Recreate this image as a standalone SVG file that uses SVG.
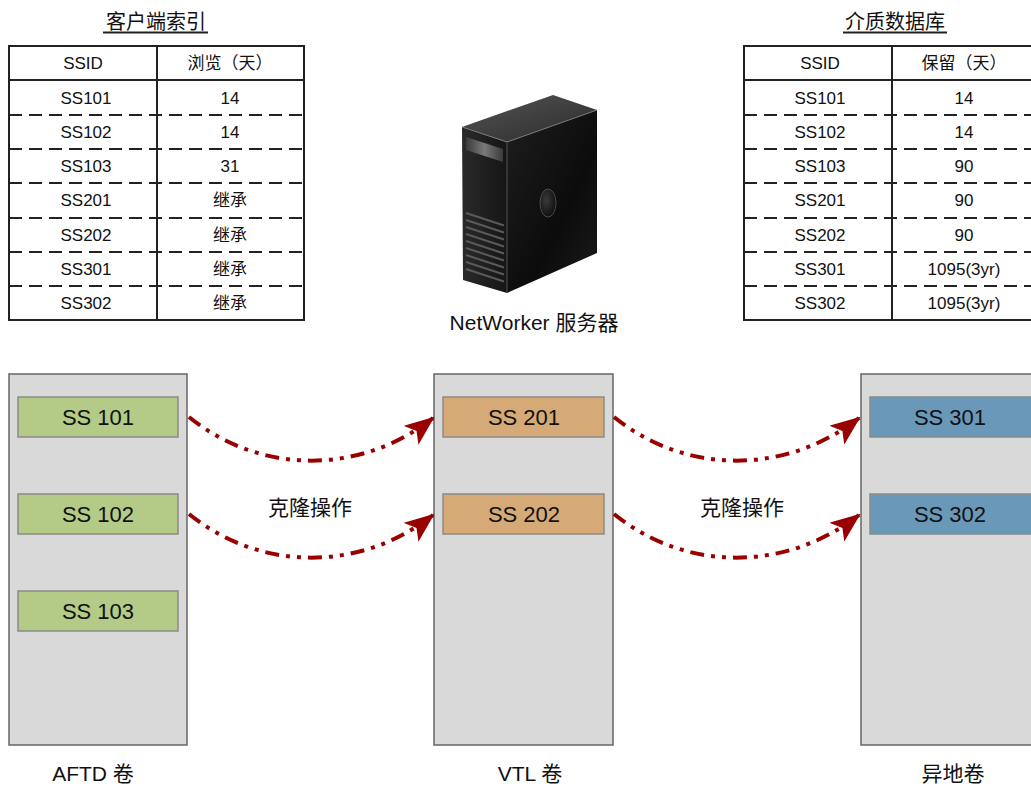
<svg xmlns="http://www.w3.org/2000/svg" width="1031" height="786" viewBox="0 0 1031 786">
  <style>
    .title { font-family: "Liberation Sans", "Noto Sans CJK SC", sans-serif; font-size: 20px; fill: #111; text-anchor: middle; }
    .cell { font-family: "Liberation Sans", "Noto Sans CJK SC", sans-serif; font-size: 17px; fill: #111; text-anchor: middle; }
    .tframe { fill: #fff; stroke: #222; stroke-width: 2; }
    .tline { stroke: #222; stroke-width: 2; }
    .tdash { stroke: #222; stroke-width: 2; stroke-dasharray: 13 7; }
    .vol { fill: #d9d9d9; stroke: #666; stroke-width: 1.5; }
    .ss { stroke: #8a8a8a; stroke-width: 1.5; }
    .g { fill: #b3cb87; }
    .o { fill: #d5aa77; }
    .b { fill: #6a98b9; }
    .sslabel { font-family: "Liberation Sans", sans-serif; font-size: 22px; fill: #111; text-anchor: middle; }
    .label { font-family: "Liberation Sans", "Noto Sans CJK SC", sans-serif; font-size: 21px; fill: #111; text-anchor: middle; }
    .clone { fill: none; stroke: #990000; stroke-width: 4; stroke-dasharray: 14 7 4 7 4 7; marker-end: url(#head); }
  </style>
  <defs>
    <marker id="head" markerUnits="userSpaceOnUse" viewBox="0 0 30 24" markerWidth="30" markerHeight="24" refX="28" refY="12" orient="auto">
      <path d="M0,0 L30,12 L0,24 L7,12 z" fill="#990000"/>
    </marker>
    <linearGradient id="topFace" x1="0" y1="0" x2="1" y2="1">
      <stop offset="0" stop-color="#555"/>
      <stop offset="1" stop-color="#2a2a2a"/>
    </linearGradient>
    <linearGradient id="frontFace" x1="0" y1="0" x2="1" y2="0">
      <stop offset="0" stop-color="#2a2a2a"/>
      <stop offset="1" stop-color="#151515"/>
    </linearGradient>
    <linearGradient id="sideFace" x1="0" y1="0" x2="1" y2="1">
      <stop offset="0" stop-color="#1e1e1e"/>
      <stop offset="0.6" stop-color="#0c0c0c"/>
      <stop offset="1" stop-color="#1a1a1a"/>
    </linearGradient>
    <linearGradient id="panel" x1="0" y1="0" x2="1" y2="0">
      <stop offset="0" stop-color="#3a3a3a"/>
      <stop offset="0.5" stop-color="#7a7a7a"/>
      <stop offset="1" stop-color="#3a3a3a"/>
    </linearGradient>
    <radialGradient id="knob" cx="0.4" cy="0.4" r="0.7">
      <stop offset="0" stop-color="#3a3a3a"/>
      <stop offset="1" stop-color="#0a0a0a"/>
    </radialGradient>
  </defs>

  <!-- client file index table -->
  <g id="client-index">
    <text class="title" x="156" y="29">客户端索引</text>
    <line class="tline" x1="103" y1="32.5" x2="208" y2="32.5" stroke-width="1.5"/>
    <rect class="tframe" x="9" y="46" width="295" height="274"/>
    <line class="tline" x1="157" y1="46" x2="157" y2="320"/>
    <line class="tline" x1="9" y1="80" x2="304" y2="80"/>
    <line class="tdash" x1="9" y1="115" x2="304" y2="115"/>
    <line class="tdash" x1="9" y1="149" x2="304" y2="149"/>
    <line class="tdash" x1="9" y1="183" x2="304" y2="183"/>
    <line class="tdash" x1="9" y1="218" x2="304" y2="218"/>
    <line class="tdash" x1="9" y1="252" x2="304" y2="252"/>
    <line class="tdash" x1="9" y1="286" x2="304" y2="286"/>
    <text class="cell" x="83" y="69">SSID</text>
    <text class="cell" x="230" y="69">浏览（天）</text>
    <text class="cell" x="86" y="104">SS101</text><text class="cell" x="230" y="104">14</text>
    <text class="cell" x="86" y="138">SS102</text><text class="cell" x="230" y="138">14</text>
    <text class="cell" x="86" y="172">SS103</text><text class="cell" x="230" y="172">31</text>
    <text class="cell" x="86" y="206">SS201</text><text class="cell" x="230" y="206">继承</text>
    <text class="cell" x="86" y="241">SS202</text><text class="cell" x="230" y="241">继承</text>
    <text class="cell" x="86" y="275">SS301</text><text class="cell" x="230" y="275">继承</text>
    <text class="cell" x="86" y="309">SS302</text><text class="cell" x="230" y="309">继承</text>
  </g>

  <!-- media database table -->
  <g id="media-db">
    <text class="title" x="895" y="29">介质数据库</text>
    <line class="tline" x1="843" y1="32.5" x2="947" y2="32.5" stroke-width="1.5"/>
    <rect class="tframe" x="744" y="46" width="296" height="274"/>
    <line class="tline" x1="892" y1="46" x2="892" y2="320"/>
    <line class="tline" x1="744" y1="80" x2="1040" y2="80"/>
    <line class="tdash" x1="744" y1="115" x2="1040" y2="115"/>
    <line class="tdash" x1="744" y1="149" x2="1040" y2="149"/>
    <line class="tdash" x1="744" y1="183" x2="1040" y2="183"/>
    <line class="tdash" x1="744" y1="218" x2="1040" y2="218"/>
    <line class="tdash" x1="744" y1="252" x2="1040" y2="252"/>
    <line class="tdash" x1="744" y1="286" x2="1040" y2="286"/>
    <text class="cell" x="820" y="69">SSID</text>
    <text class="cell" x="964" y="69">保留（天）</text>
    <text class="cell" x="820" y="104">SS101</text><text class="cell" x="964" y="104">14</text>
    <text class="cell" x="820" y="138">SS102</text><text class="cell" x="964" y="138">14</text>
    <text class="cell" x="820" y="172">SS103</text><text class="cell" x="964" y="172">90</text>
    <text class="cell" x="820" y="206">SS201</text><text class="cell" x="964" y="206">90</text>
    <text class="cell" x="820" y="241">SS202</text><text class="cell" x="964" y="241">90</text>
    <text class="cell" x="820" y="275">SS301</text><text class="cell" x="964" y="275">1095(3yr)</text>
    <text class="cell" x="820" y="309">SS302</text><text class="cell" x="964" y="309">1095(3yr)</text>
  </g>

  <!-- NetWorker server tower -->
  <g id="server">
    <polygon points="462,127 553,95 597,110 507,142" fill="url(#topFace)"/>
    <polygon points="462,127 507,142 507,293 463,280" fill="url(#frontFace)"/>
    <polygon points="507,142 597,110 597,253 507,293" fill="url(#sideFace)"/>
    <polyline points="462,127 507,142 597,110" fill="none" stroke="#777" stroke-width="1"/>
    <line x1="507" y1="142" x2="507" y2="293" stroke="#555" stroke-width="1"/>
    <polygon points="466,137 503,149 503,162 466,150" fill="url(#panel)"/>
    <g stroke="#5a5a5a" stroke-width="2">
      <line x1="466" y1="213" x2="504" y2="225.5"/>
      <line x1="466" y1="220" x2="504" y2="232.5"/>
      <line x1="466" y1="227" x2="504" y2="239.5"/>
      <line x1="466" y1="234" x2="504" y2="246.5"/>
      <line x1="466" y1="241" x2="504" y2="253.5"/>
      <line x1="466" y1="248" x2="504" y2="260.5"/>
      <line x1="466" y1="255" x2="504" y2="267.5"/>
      <line x1="466" y1="262" x2="504" y2="274.5"/>
      <line x1="466" y1="269" x2="504" y2="281.5"/>
    </g>
    <ellipse cx="548" cy="203" rx="8" ry="14" fill="url(#knob)" stroke="#4a4a4a" stroke-width="1"/>
    <text class="label" x="534" y="330">NetWorker 服务器</text>
  </g>

  <!-- AFTD volume -->
  <g id="aftd-volume">
    <rect class="vol" x="9" y="374" width="178" height="371"/>
    <rect class="ss g" x="18" y="397" width="160" height="40"/>
    <text class="sslabel" x="98" y="425">SS 101</text>
    <rect class="ss g" x="18" y="494" width="160" height="40"/>
    <text class="sslabel" x="98" y="522">SS 102</text>
    <rect class="ss g" x="18" y="591" width="160" height="40"/>
    <text class="sslabel" x="98" y="619">SS 103</text>
    <text class="label" x="93" y="781">AFTD 卷</text>
  </g>

  <!-- VTL volume -->
  <g id="vtl-volume">
    <rect class="vol" x="434" y="374" width="179" height="371"/>
    <rect class="ss o" x="443" y="397" width="161" height="40"/>
    <text class="sslabel" x="524" y="425">SS 201</text>
    <rect class="ss o" x="443" y="494" width="161" height="40"/>
    <text class="sslabel" x="524" y="522">SS 202</text>
    <text class="label" x="530" y="781">VTL 卷</text>
  </g>

  <!-- offsite volume -->
  <g id="offsite-volume">
    <rect class="vol" x="861" y="374" width="180" height="371"/>
    <rect class="ss b" x="870" y="397" width="171" height="40"/>
    <text class="sslabel" x="950" y="425">SS 301</text>
    <rect class="ss b" x="870" y="494" width="171" height="40"/>
    <text class="sslabel" x="950" y="522">SS 302</text>
    <text class="label" x="953" y="781">异地卷</text>
  </g>

  <!-- clone connectors -->
  <g id="connectors">
    <path class="clone" d="M189,417 C262,476 362,474 433,418"/>
    <path class="clone" d="M189,514 C262,573 362,571 433,515"/>
    <path class="clone" d="M614,417 C687,476 787,474 859,418"/>
    <path class="clone" d="M614,514 C687,573 787,571 859,515"/>
    <text class="label" x="310" y="515">克隆操作</text>
    <text class="label" x="742" y="515">克隆操作</text>
  </g>
</svg>
